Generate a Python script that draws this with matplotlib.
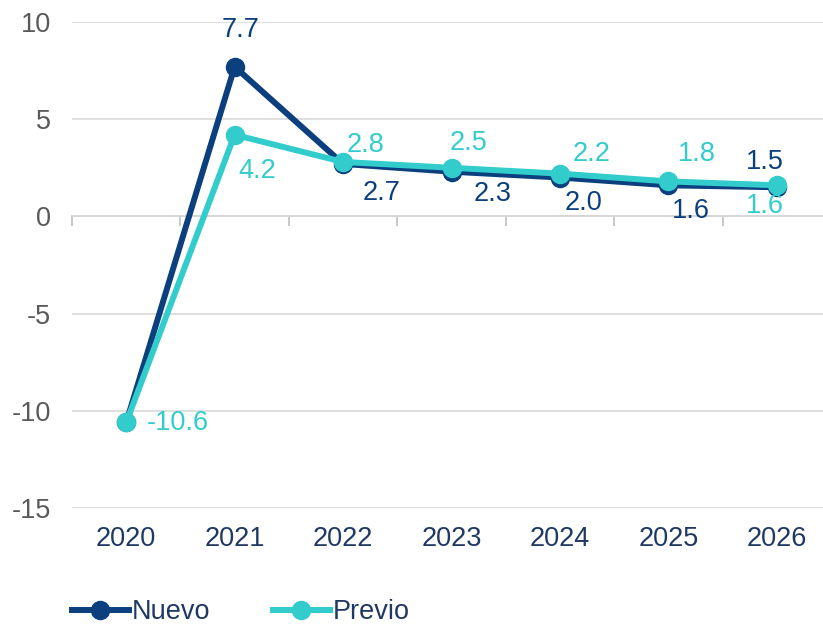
import matplotlib
matplotlib.use("Agg")
import matplotlib.pyplot as plt
from matplotlib.lines import Line2D

years = ["2020", "2021", "2022", "2023", "2024", "2025", "2026"]
nuevo = [-10.6, 7.7, 2.7, 2.3, 2.0, 1.6, 1.5]
previo = [-10.6, 4.2, 2.8, 2.5, 2.2, 1.8, 1.6]
nuevo_labels = [None, "7.7", "2.7", "2.3", "2.0", "1.6", "1.5"]
previo_labels = ["-10.6", "4.2", "2.8", "2.5", "2.2", "1.8", "1.6"]
yticks = [10, 5, 0, -5, -10, -15]

# label offsets in pixels (dx, dy)
nuevo_off = [None, (6, 37), (38, -29), (41, -22), (24, -25), (23, -26), (-12, 25)]
previo_off = [(52, -1), (23, -36), (22, 17), (17, 25), (32, 20), (28, 27), (-12, -21)]

NAVY = "#0B3F7E"
TEAL = "#33CCCC"
FS = 19.5

plt.rcParams['font.family'] = ['Liberation Sans', 'DejaVu Sans']

fig = plt.figure(figsize=(8.23, 6.24), dpi=100)
ax = fig.add_axes([72/823, 1-508/624, (831-72)/823, (508-22)/624])

x = list(range(len(years)))
ax.plot(x, nuevo, color=NAVY, lw=4.3, marker='o', ms=13, zorder=3)
ax.plot(x, previo, color=TEAL, lw=4.3, marker='o', ms=13, zorder=4)

for i, (v, lab, off) in enumerate(zip(nuevo, nuevo_labels, nuevo_off)):
    if lab:
        ax.annotate(lab, (i, v), xytext=off, textcoords='offset pixels',
                    ha='center', va='center', fontsize=FS, color=NAVY, zorder=5)
for i, (v, lab, off) in enumerate(zip(previo, previo_labels, previo_off)):
    if lab:
        ax.annotate(lab, (i, v), xytext=off, textcoords='offset pixels',
                    ha='center', va='center', fontsize=FS, color=TEAL, zorder=5)

ax.set_xlim(-0.5, len(years) - 0.5)
ax.set_ylim(-15, 10)
ax.set_yticks(yticks)
ax.set_yticklabels([str(t) for t in yticks])
ax.set_xticks(x)
ax.set_xticklabels(years)
ax.tick_params(axis='y', length=0, pad=15, labelsize=FS, labelcolor='#595959')
ax.tick_params(axis='x', length=0, pad=13, labelsize=FS, labelcolor='#1F3864')
for s in ax.spines.values():
    s.set_visible(False)
ax.grid(axis='y', color='#D9D9D9', lw=1.2)
ax.set_axisbelow(True)

sec = ax.secondary_xaxis(0, transform=ax.transData)
sec.set_xticks([i - 0.5 for i in range(len(years) + 1)])
sec.set_xticklabels([])
sec.tick_params(length=7, width=1.2, color='#BFBFBF', direction='out')
sec.spines['bottom'].set_color('#BFBFBF')
sec.spines['bottom'].set_linewidth(1.2)

handles = [Line2D([], [], color=NAVY, lw=4.3, marker='o', ms=13),
           Line2D([], [], color=TEAL, lw=4.3, marker='o', ms=13)]
fig.legend(handles, ["Nuevo", "Previo"], loc='center left',
           bbox_to_anchor=(72/823, 1-612/624), ncol=2, frameon=False,
           fontsize=FS, labelcolor='#1F3864', handlelength=2.1,
           handletextpad=0.12, columnspacing=2.3, borderaxespad=0, borderpad=0)

fig.savefig("out.png", dpi=100)
